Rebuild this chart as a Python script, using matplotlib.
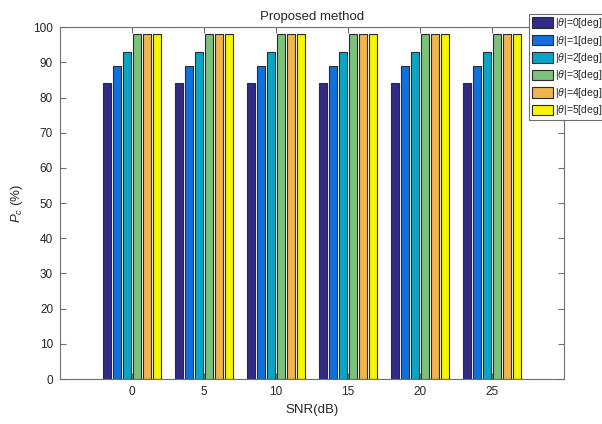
import numpy as np
import matplotlib.pyplot as plt

plt.rcParams['font.family'] = ['Liberation Sans', 'DejaVu Sans']
plt.rcParams['mathtext.fontset'] = 'custom'
plt.rcParams['mathtext.rm'] = 'Liberation Sans'
plt.rcParams['mathtext.it'] = 'Liberation Sans:italic'

# SNR values on the x axis
snr = [0, 5, 10, 15, 20, 25]
# correct classification rate (%) for each |theta| error
series_labels = [r'|$\theta$|=0[deg]', r'|$\theta$|=1[deg]', r'|$\theta$|=2[deg]',
                 r'|$\theta$|=3[deg]', r'|$\theta$|=4[deg]', r'|$\theta$|=5[deg]']
pc_theta0 = [84, 84, 84, 84, 84, 84]
pc_theta1 = [89, 89, 89, 89, 89, 89]
pc_theta2 = [93, 93, 93, 93, 93, 93]
pc_theta3 = [98, 98, 98, 98, 98, 98]
pc_theta4 = [98, 98, 98, 98, 98, 98]
pc_theta5 = [98, 98, 98, 98, 98, 98]
series = [pc_theta0, pc_theta1, pc_theta2, pc_theta3, pc_theta4, pc_theta5]

colors = ['#332a86', '#1270dd', '#0ba5c4', '#7cc27c', '#f0b44c', '#f7f505']
text_col = '#262626'
axis_col = '#6e6e6e'

fig = plt.figure(figsize=(6.02, 4.24), dpi=100)
ax = fig.add_axes([0.0997, 0.106, 0.8372, 0.830])

step = 0.69
width = 0.55
x = np.array(snr, dtype=float)
handles = []
for i, (vals, c) in enumerate(zip(series, colors)):
    h = ax.bar(x + (i - 2.5) * step, vals, width=width, color=c,
               edgecolor='#2b2b2b', linewidth=0.8, label=series_labels[i])
    handles.append(h)

ax.set_xlim(-5, 30)
ax.set_ylim(0, 100)
ax.set_xticks(snr)
ax.set_yticks(np.arange(0, 101, 10))
ax.tick_params(direction='in', length=4, width=0.8, top=True, right=True,
               labelsize=8.5, colors=axis_col, labelcolor=text_col, pad=5)
for s in ax.spines.values():
    s.set_color(axis_col)
    s.set_linewidth(0.8)

ax.set_title('Proposed method', fontsize=9.5, color=text_col, pad=5)
ax.set_xlabel('SNR(dB)', fontsize=9.5, color=text_col, labelpad=4)
ax.set_ylabel(r'$P_c$ (%)', fontsize=9.5, color=text_col, labelpad=6)

leg = fig.legend(handles=handles, loc='upper left',
                 bbox_to_anchor=(0.879, 0.968), fontsize=7.5,
                 frameon=True, fancybox=False, framealpha=1,
                 handlelength=2.0, handleheight=1.15, handletextpad=0.2,
                 labelspacing=0.33, borderpad=0.25, borderaxespad=0)
leg.get_frame().set_edgecolor(axis_col)
leg.get_frame().set_linewidth(0.8)
for t in leg.get_texts():
    t.set_color(text_col)

fig.savefig('out.png', dpi=100, facecolor='white')
